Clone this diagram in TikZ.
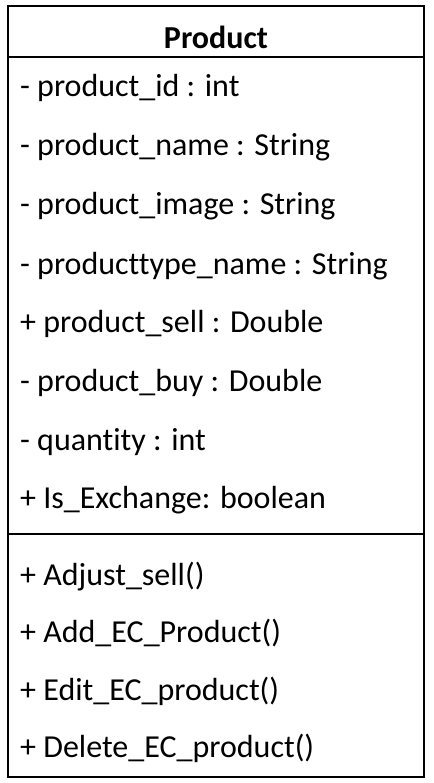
\documentclass[tikz,border=0pt]{standalone}
\usepackage{fontspec}
\setmainfont[Ligatures=NoCommon]{Carlito}
\usetikzlibrary{positioning}

\begin{document}
\begin{tikzpicture}[x=1pt, y=1pt,
    member/.style={anchor=base west, inner sep=0pt, font=\fontsize{32}{36}\selectfont},
    title/.style={anchor=base, inner sep=0pt, font=\fontsize{32}{36}\selectfont\bfseries}]
    \useasboundingbox (0,0) rectangle (433,-783);
    % Box
    \draw[line width=1.5pt] (8,-6) rectangle (424,-777);
    \draw[line width=1.5pt] (8,-57) -- (424,-57);
    \draw[line width=1.5pt] (8,-534) -- (424,-534);

    % Nodes
    \node[title] (name) at (216,-49) {Product};
    \node[member] (id) at (20,-97) {- product\_id : int};
    \node[member] (pname) at (20,-156) {- product\_name : String};
    \node[member] (image) at (20,-215) {- product\_image : String};
    \node[member] (ptype) at (20,-274) {- producttype\_name : String};
    \node[member] (sell) at (20,-332) {+ product\_sell : Double};
    \node[member] (buy) at (20,-391) {- product\_buy : Double};
    \node[member] (qty) at (20,-450) {- quantity : int};
    \node[member] (exch) at (20,-508) {+ Is\_Exchange: boolean};
    \node[member] (adjust) at (20,-585) {+ Adjust\_sell()};
    \node[member] (add) at (20,-642) {+ Add\_EC\_Product()};
    \node[member] (edit) at (20,-700) {+ Edit\_EC\_product()};
    \node[member] (delete) at (20,-757) {+ Delete\_EC\_product()};
\end{tikzpicture}
\end{document}
